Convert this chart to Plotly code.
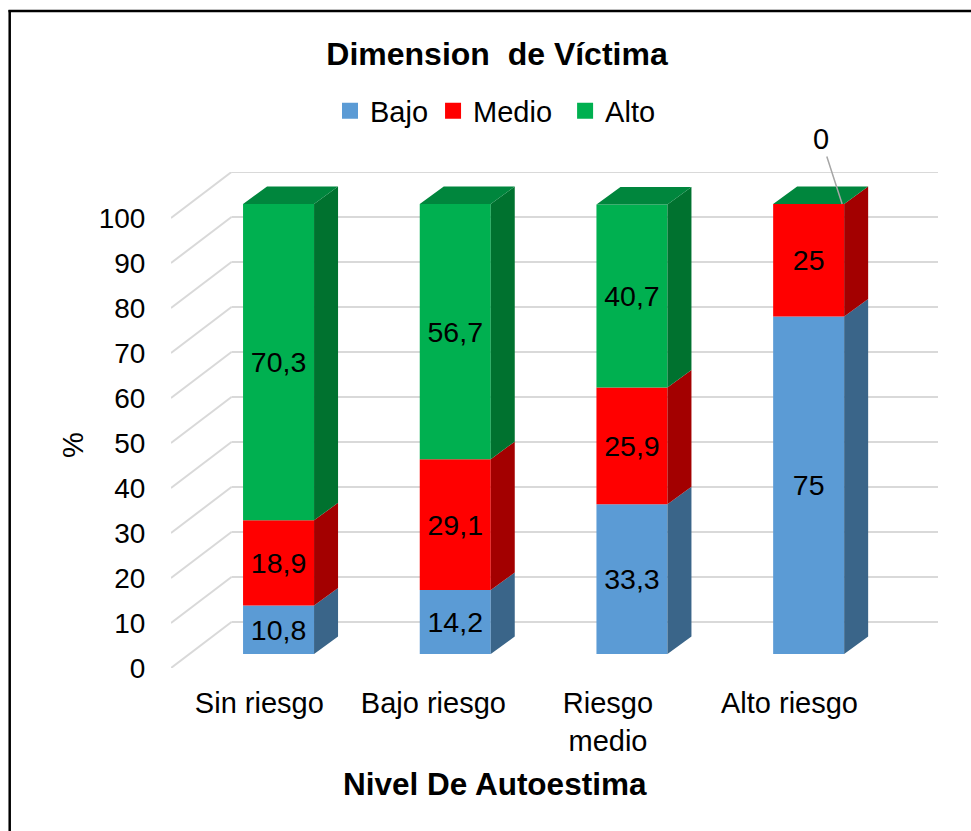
import plotly.graph_objects as go

categories = ["Sin riesgo", "Bajo riesgo", "Riesgo<br>medio", "Alto riesgo"]
bajo = [10.8, 14.2, 33.3, 75]
medio = [18.9, 29.1, 25.9, 25]
alto = [70.3, 56.7, 40.7, 0]
tick_values = list(range(0, 101, 10))

W, H = 971, 831
L, R, T, B = 171, 938, 172, 668
PX_X = 176.7
PX_Y = 4.5
FONT = "Liberation Sans"
SIZE = 29
TICK_SIZE = 28
LABEL_SIZE = 28.5


def dx(px):
    return px / PX_X


def dy(px):
    return px / PX_Y


def px_paper_x(px):
    return (px - L) / (R - L)


def px_paper_y(px):
    return (B - px) / (B - T)


x_min = -0.5
x_max = x_min + dx(R - L)
y_max = dy(B - T)

bar_shift_x = dx(19.2)
bar_shift_y = dy(14)
bar_w = dx(71)
depth_x = dx(24)
depth_y = dy(17.5)
wall_x = dx(60.5)
wall_y = dy(46)

series = [
    ("Bajo", bajo, "#5B9BD5", "#3A6589"),
    ("Medio", medio, "#FF0000", "#A30000"),
    ("Alto", alto, "#00B050", "#00722F"),
]

fig = go.Figure()
positions = [i + bar_shift_x for i in range(len(categories))]
cum = [0.0] * len(categories)
side_traces = []
for name, vals, col, dark in series:
    bases = [c + bar_shift_y for c in cum]
    labels = [f"{v}".replace(".", ",") if v else "" for v in vals]
    fig.add_trace(go.Bar(
        x=positions, y=vals, base=bases, width=bar_w, name=name, showlegend=False,
        marker=dict(color=col, line=dict(width=0)),
        text=labels, textposition="inside", insidetextanchor="middle",
        textangle=0, constraintext="none",
        textfont=dict(family=FONT, size=LABEL_SIZE, color="black"),
        hoverinfo="skip",
    ))
    sx, sy = [], []
    for p, b, v in zip(positions, bases, vals):
        xr = p + bar_w / 2
        sx += [xr, xr + depth_x, xr + depth_x, xr, xr, None]
        sy += [b, b + depth_y, b + v + depth_y, b + v, b, None]
    side_traces.append(go.Scatter(
        x=sx, y=sy, mode="lines", fill="toself", fillcolor=dark,
        line=dict(width=0, color=dark), showlegend=False, hoverinfo="skip",
    ))
    cum = [c + v for c, v in zip(cum, vals)]

for t in side_traces:
    fig.add_trace(t)

tx, ty = [], []
for p, c in zip(positions, cum):
    top = c + bar_shift_y
    xl, xr = p - bar_w / 2, p + bar_w / 2
    tx += [xl, xr, xr + depth_x, xl + depth_x, xl, None]
    ty += [top, top, top + depth_y, top + depth_y, top, None]
fig.add_trace(go.Scatter(
    x=tx, y=ty, mode="lines", fill="toself", fillcolor="#00863D",
    line=dict(width=0, color="#00863D"), showlegend=False, hoverinfo="skip",
))

# legend entries with large square swatches
for (name, vals, col, dark), legend_name in zip(series, ["Bajo", "Medio\u00a0", "Alto"]):
    fig.add_trace(go.Scatter(
        x=[None], y=[None], mode="markers", name=legend_name,
        marker=dict(symbol="square", size=17, color=col), hoverinfo="skip",
    ))

shapes = []
grid = dict(color="#D9D9D9", width=2)
for v in tick_values:
    shapes.append(dict(type="line", xref="x", yref="y", layer="below",
                       x0=x_min, y0=v, x1=x_min + wall_x, y1=v + wall_y, line=grid))
    shapes.append(dict(type="line", xref="x", yref="y", layer="below",
                       x0=x_min + wall_x, y0=v + wall_y, x1=x_max, y1=v + wall_y, line=grid))
border = dict(color="black", width=2.5)
shapes.append(dict(type="line", xref="paper", yref="paper",
                   x0=px_paper_x(9.7), x1=px_paper_x(9.7),
                   y0=px_paper_y(10), y1=px_paper_y(H), line=border))
shapes.append(dict(type="line", xref="paper", yref="paper",
                   x0=px_paper_x(8.5), x1=px_paper_x(W),
                   y0=px_paper_y(11), y1=px_paper_y(11), line=border))

annotations = [
    dict(x=positions[3] + bar_w / 2 - dx(2), y=cum[3] + bar_shift_y, xref="x", yref="y",
         text=str(alto[3]), showarrow=True, arrowhead=0, arrowwidth=1.5,
         arrowcolor="#A6A6A6", ax=-21, ay=-65, standoff=0,
         font=dict(family=FONT, size=SIZE, color="black")),
    dict(x=px_paper_x(495), y=px_paper_y(784), xref="paper", yref="paper",
         xanchor="center", yanchor="middle",
         text="<b>Nivel De Autoestima</b>", showarrow=False,
         font=dict(family=FONT, size=31.5, color="black")),
    dict(x=px_paper_x(73), y=px_paper_y(445), xref="paper", yref="paper",
         xanchor="center", yanchor="middle",
         text="%", textangle=-90, showarrow=False,
         font=dict(family=FONT, size=SIZE, color="black")),
]

fig.update_layout(
    width=W, height=H,
    margin=dict(l=L, r=W - R, t=T, b=H - B, pad=0),
    paper_bgcolor="white", plot_bgcolor="white",
    barmode="overlay", separators=",.",
    title=dict(text="<b>Dimension\u00a0 de Víctima</b>", x=497 / W,
               xanchor="center", y=1 - 54 / H, yanchor="middle",
               font=dict(family=FONT, size=32, color="black")),
    legend=dict(orientation="h", x=px_paper_x(330), y=px_paper_y(111),
                xanchor="left", yanchor="middle", traceorder="normal",
                font=dict(family=FONT, size=SIZE, color="black"),
                bgcolor="rgba(0,0,0,0)"),
    xaxis=dict(range=[x_min, x_max], tickmode="array",
               tickvals=[0, -0.015, -0.027, 0.0 + 3 - 3 + 0],
               ticktext=categories, showgrid=False, zeroline=False, showline=False,
               ticks="outside", ticklen=9, tickcolor="rgba(0,0,0,0)",
               tickfont=dict(family=FONT, size=SIZE, color="black")),
    yaxis=dict(range=[0, y_max], tickmode="array", tickvals=tick_values,
               ticktext=[str(v) for v in tick_values], showgrid=False, zeroline=False,
               showline=False, ticks="outside", ticklen=19, tickcolor="rgba(0,0,0,0)",
               tickfont=dict(family=FONT, size=TICK_SIZE, color="black")),
    shapes=shapes, annotations=annotations,
)
fig.update_xaxes(tickvals=[i + s for i, s in enumerate([0, -0.015, -0.027, 0])])

fig.write_html("out.html", config={"displayModeBar": False},
               post_script="document.body.style.margin='0';document.documentElement.style.overflow='hidden';")
